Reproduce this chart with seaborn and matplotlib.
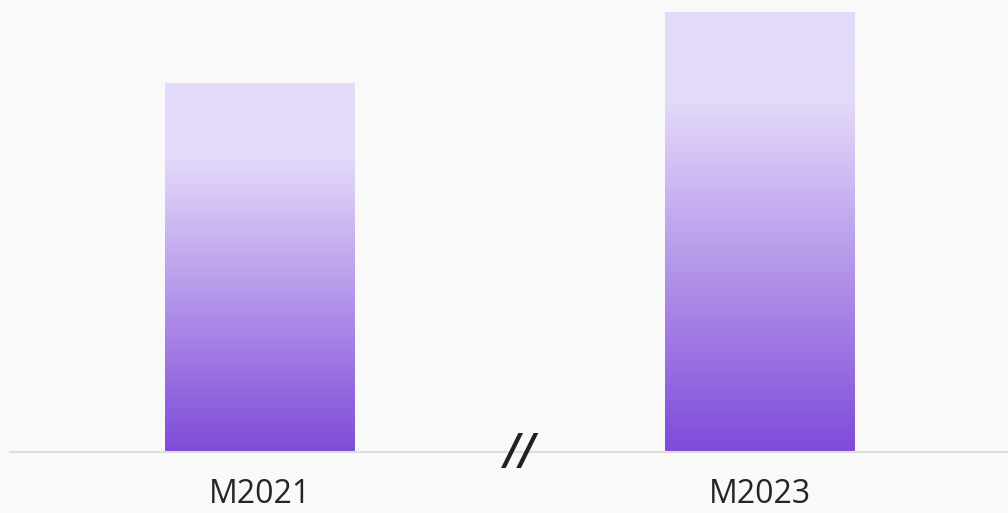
import numpy as np
import matplotlib
matplotlib.use("Agg")
import matplotlib.pyplot as plt
import seaborn as sns
from matplotlib.colors import LinearSegmentedColormap

categories = ["M2021", "M2023"]
values = [83.9, 100.0]

bg = "#f9f9f9"
top_color = "#e4daf9"
bottom_color = "#7f4bd9"
text_color = "#222722"

sns.set_style("white")
plt.rcParams["font.family"] = ["Open Sans", "DejaVu Sans"]

fig = plt.figure(figsize=(10.08, 5.13), dpi=100, facecolor=bg)
ax = fig.add_axes([10 / 1008, 61 / 513, 1000 / 1008, 452 / 513])
ax.set_facecolor(bg)

sns.barplot(x=categories, y=values, ax=ax, width=0.38, color=top_color, linewidth=0)

# vertical gradient: flat lavender in the top 20 %, then down to purple
cmap = LinearSegmentedColormap.from_list(
    "grad", [(0.0, bottom_color), (0.8, top_color), (1.0, top_color)])
grad = np.linspace(0, 1, 256).reshape(-1, 1)

for patch in ax.patches:
    x0, y0 = patch.get_x(), patch.get_y()
    w, h = patch.get_width(), patch.get_height()
    im = ax.imshow(grad, cmap=cmap, origin="lower", aspect="auto",
                   extent=[x0, x0 + w, y0, y0 + h], zorder=2)
    im.set_clip_path(patch)
    patch.set_facecolor("none")

ax.set_xlim(-0.5, 1.5)
ax.set_ylim(0, 100 * 452 / 440)

for s in ["top", "left", "right"]:
    ax.spines[s].set_visible(False)
ax.spines["bottom"].set_color("#dcdfdb")
ax.spines["bottom"].set_linewidth(1.5)
ax.set_yticks([])
ax.tick_params(axis="x", length=0, pad=19, labelsize=23, labelcolor=text_color)
ax.set_xlabel("")
ax.set_ylabel("")

# axis break marker
ax.text(0.52, 0, "//", ha="center", va="center", fontsize=30, fontweight="bold",
        fontstyle="italic", color="#1e231f", zorder=5, clip_on=False,
        family="DejaVu Sans")

fig.savefig("out.png", dpi=100, facecolor=bg)
